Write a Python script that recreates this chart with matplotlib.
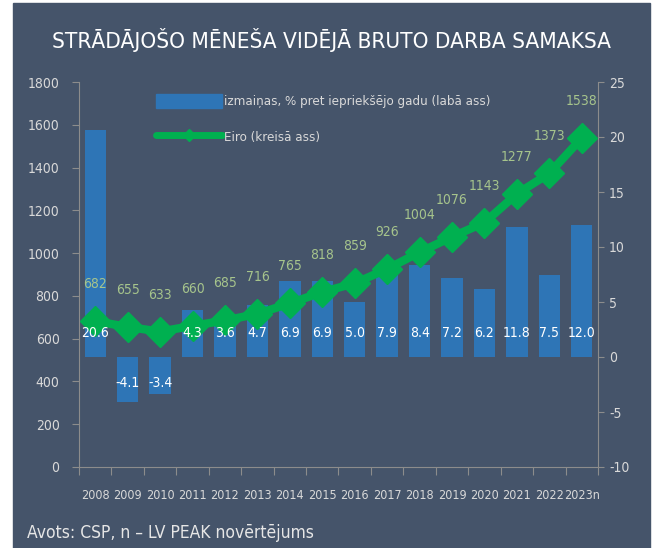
import matplotlib
matplotlib.use("Agg")
import matplotlib.pyplot as plt
from matplotlib.patches import Rectangle, Patch
from matplotlib.lines import Line2D

# --- data -------------------------------------------------------------
years = ["2008", "2009", "2010", "2011", "2012", "2013", "2014", "2015",
         "2016", "2017", "2018", "2019", "2020", "2021", "2022", "2023n"]
change_pct = [20.6, -4.1, -3.4, 4.3, 3.6, 4.7, 6.9, 6.9,
              5.0, 7.9, 8.4, 7.2, 6.2, 11.8, 7.5, 12.0]
wage_eur = [682, 655, 633, 660, 685, 716, 765, 818,
            859, 926, 1004, 1076, 1143, 1277, 1373, 1538]

title = "STRĀDĀJOŠO MĒNEŠA VIDĒJĀ BRUTO DARBA SAMAKSA"
bar_name = "izmaiņas, % pret iepriekšējo gadu (labā ass)"
line_name = "Eiro (kreisā ass)"
source = "Avots: CSP, n – LV PEAK novērtējums"

# --- style ------------------------------------------------------------
BG = "#45546A"
BAR = "#2E75B6"
LINE = "#00B050"
LINE_LBL = "#A6C48C"
TXT = "#D9D9D9"
SPINE = "#8C8C8C"

plt.rcParams["font.family"] = ["DejaVu Sans"]
plt.rcParams["font.stretch"] = "condensed"
plt.rcParams["axes.unicode_minus"] = False

fig = plt.figure(figsize=(6.53, 5.48), dpi=100)
fig.patch.set_facecolor("white")
fig.patches.append(Rectangle((13 / 653, 0), 637 / 653, 545 / 548,
                             transform=fig.transFigure, color=BG, zorder=-10))

ax = fig.add_axes([79 / 653, 1 - 467 / 548, 519 / 653, 385 / 548])
ax2 = ax.twinx()
ax.set_zorder(ax2.get_zorder() + 1)
ax.patch.set_visible(False)
ax2.patch.set_visible(False)

x = list(range(len(years)))

ax2.bar(x, change_pct, width=0.66, color=BAR)
ax2.set_ylim(-10, 25)
ax2.set_yticks(range(-10, 30, 5))

ax.plot(x, wage_eur, color=LINE, linewidth=6, marker="D", markersize=15,
        solid_joinstyle="miter")
ax.set_ylim(0, 1800)
ax.set_yticks(range(0, 2000, 200))
ax.set_xlim(-0.5, len(years) - 0.5)

# x ticks: marks at category edges, labels at centres
ax.set_xticks([i - 0.5 for i in range(len(years) + 1)])
ax.set_xticklabels([])
ax.set_xticks(x, minor=True)
ax.set_xticklabels(years, minor=True)
ax.tick_params(axis="x", which="major", length=6, color=SPINE, direction="out")
ax.tick_params(axis="x", which="minor", length=0, colors=TXT, labelsize=9, pad=16)
ax.tick_params(axis="y", length=5, color=SPINE, labelcolor=TXT, labelsize=10, pad=9)
ax2.tick_params(axis="y", length=4, color=SPINE, labelcolor=TXT, labelsize=10, pad=4)

for a in (ax, ax2):
    a.spines["top"].set_visible(False)
    for s in ("left", "right", "bottom"):
        a.spines[s].set_color(SPINE)
ax.spines["right"].set_visible(False)
ax2.spines["left"].set_visible(False)
ax2.spines["bottom"].set_visible(False)

# labels
for i, v in enumerate(wage_eur):
    ax.annotate(str(v), (i, v), xytext=(0, 37), textcoords="offset pixels",
                ha="center", va="center", color=LINE_LBL, fontsize=10)
for i, v in enumerate(change_pct):
    off = 24 if v >= 0 else -26
    ax.annotate(f"{v:.1f}", (i, 0), xycoords=ax2.transData, xytext=(0, off),
                textcoords="offset pixels", ha="center", va="center",
                color="white", fontsize=10, zorder=10)

handles = [Patch(color=BAR),
           Line2D([], [], color=LINE, linewidth=5, marker="D", markersize=6,
                  solid_capstyle="round")]
leg = ax.legend(handles, [bar_name, line_name], loc="upper left",
                bbox_to_anchor=(0.125, 1.0), frameon=False, fontsize=9.5,
                handlelength=5.0, handleheight=1.3, handletextpad=0.2,
                labelspacing=1.6)
for t in leg.get_texts():
    t.set_color(TXT)

fig.text(332 / 653, 1 - 40 / 548, title, ha="center", va="center",
         color="white", fontsize=16.2)
fig.text(27 / 653, 1 - 533 / 548, source, ha="left", va="center",
         color="#E6E6E6", fontsize=12.5)

fig.savefig("out.png", dpi=100, facecolor=fig.get_facecolor())
